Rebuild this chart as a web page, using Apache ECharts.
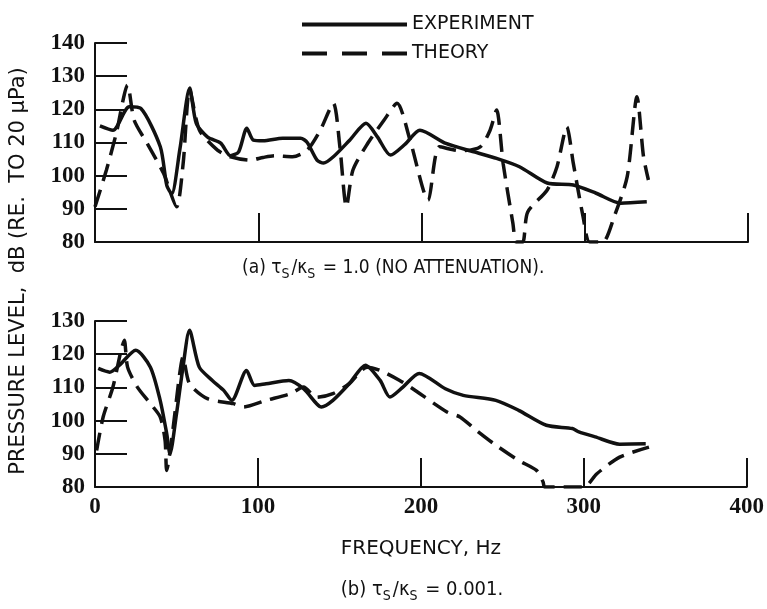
<!DOCTYPE html>
<html lang="en">
<head>
    <meta charset="UTF-8">
    <title>Pressure level vs frequency</title>
    <script type="text/javascript" src="https://cdn.jsdelivr.net/npm/echarts@6/dist/echarts.min.js"></script>
    <style type="text/css">
        html, body { margin: 0; padding: 0; background: #fff; }
        #chart { width: 767px; height: 609px; }
    </style>
</head>
<body>
    <div id="chart"></div>
</body>

<script type="text/javascript">
    // (a) tau/kappa = 1.0
    var expFreqA  = [3, 11, 21, 28, 40, 44, 47, 52, 58, 62, 69, 77, 83, 88, 93, 97, 103, 115, 126, 130, 136, 140, 146, 156, 166, 173, 181, 190, 199, 215, 232, 246, 260, 277, 293, 307, 322, 338];
    var expLevelA = [115, 113.7, 120.8, 120.3, 108.7, 97, 94.5, 108, 126.4, 115.8, 111.6, 109.8, 106, 107.2, 114.3, 110.7, 110.5, 111.3, 111.3, 110, 104.7, 103.8, 105.7, 110.7, 115.8, 111.7, 106.2, 109.5, 113.7, 109.7, 107.2, 105.2, 102.7, 97.8, 97.2, 94.7, 91.7, 92.1];
    var thFreqA   = [0, 7, 13, 20, 24, 32, 42, 50, 54, 58, 64, 75, 83, 95, 103, 110, 121, 130, 138, 146, 150, 154, 158, 167, 177, 185, 193, 204, 211, 224, 236, 242, 246, 250, 256, 258, 262, 265, 277, 283, 289, 293, 299, 303, 311, 318, 326, 332, 336, 339];
    var thLevelA  = [90.6, 101.7, 112.7, 127.3, 116.7, 109.7, 100.7, 90.6, 103.7, 125.8, 113.7, 107.7, 105.7, 104.7, 105.5, 106, 105.7, 107.7, 113.7, 121.8, 108.7, 90.6, 101.7, 109.7, 116.7, 121.8, 110.7, 92.6, 108.7, 107.5, 108.7, 113.7, 119.8, 103.7, 85.6, 80, 80, 89, 95.7, 102.7, 114.7, 103.7, 87.6, 80, 80, 87.6, 99.7, 123.8, 105.7, 98.7];

    // (b) tau/kappa = 0.001
    var expFreqB  = [2, 9, 15, 25, 34, 40, 44, 46, 50, 54, 58, 64, 72, 79, 84, 93, 98, 105, 119, 128, 136, 139, 146, 156, 166, 175, 181, 189, 199, 215, 226, 246, 260, 277, 293, 297, 307, 322, 338];
    var expLevelB = [115.7, 114.6, 116.7, 121.2, 116.1, 106.1, 96.1, 90, 102, 116.1, 127.2, 116.1, 112.1, 109.1, 106.1, 115.1, 110.6, 111.1, 112.1, 109.6, 105.1, 104.1, 106.1, 111.1, 116.7, 112.1, 107.1, 110.1, 114.2, 109.6, 107.6, 106.1, 103.1, 98.6, 97.6, 96.6, 95.1, 92.9, 93];
    var thFreqB   = [1, 5, 11, 16, 18, 20, 26, 34, 40, 43, 44, 47, 52, 54, 58, 69, 85, 91, 105, 120, 128, 136, 146, 156, 167, 175, 187, 195, 216, 224, 234, 246, 260, 271, 275, 276, 300, 308, 322, 340];
    var thLevelB  = [91, 101.1, 110.1, 121.2, 124.2, 116.1, 110.1, 105.1, 101.1, 94.1, 85, 94.1, 114.2, 119.2, 111.1, 106.6, 105.1, 104.1, 106.1, 108.1, 110.1, 107, 108.1, 111.1, 116.1, 115.1, 112.1, 109.6, 102.6, 101.1, 97.1, 92.6, 88, 85, 81.5, 80, 80, 84, 89, 92];

    function pairs(xs, ys) {
        var out = [];
        for (var i = 0; i < xs.length; i++) {
            out.push([xs[i], ys[i]]);
        }
        return out;
    }

    var numFont = {fontFamily: 'Liberation Serif', fontWeight: 'bold', fontSize: 23, color: '#111'};
    var sansFont = 'DejaVu Sans, sans-serif';
    var condFont = 'DejaVu Sans Condensed, DejaVu Sans, sans-serif';
    var solid = {color: '#111', width: 3.5, type: 'solid'};
    var dashed = {color: '#111', width: 3.5, type: [18, 9]};

    function xAxisOpt(idx, showLabels) {
        return {
            type: 'value', gridIndex: idx, min: 0, max: 400, interval: 100,
            axisLine: {lineStyle: {color: '#111', width: 2}},
            axisTick: {inside: true, length: 29, lineStyle: {color: '#111', width: 2}},
            splitLine: {show: false},
            axisLabel: Object.assign({show: showLabels, margin: 9}, numFont),
            name: showLabels ? 'FREQUENCY, Hz' : '',
            nameLocation: 'middle', nameGap: 52,
            nameTextStyle: {fontFamily: sansFont, fontSize: 20, color: '#111'}
        };
    }

    function yAxisOpt(idx, max) {
        return {
            type: 'value', gridIndex: idx, min: 80, max: max, interval: 10,
            axisLine: {show: true, lineStyle: {color: '#111', width: 2}},
            axisTick: {show: true, inside: true, length: 32, lineStyle: {color: '#111', width: 2}},
            splitLine: {show: false},
            axisLabel: Object.assign({margin: 10}, numFont)
        };
    }

    var chart = echarts.init(document.getElementById('chart'));

    var options = {
        backgroundColor: '#fff',
        animation: false,
        legend: {
            orient: 'vertical', left: 297, top: 10,
            itemWidth: 105, itemHeight: 4, itemGap: 10,
            data: [
                {name: 'EXPERIMENT', icon: 'path://M0,0H105V4H0Z'},
                {name: 'THEORY', icon: 'path://M0,0H25V4H0Z M40,0H65V4H40Z M80,0H105V4H80Z'}
            ],
            textStyle: {fontFamily: sansFont, fontSize: 19, color: '#111'}
        },
        grid: [
            {left: 95, top: 43, width: 653, height: 199},
            {left: 95, top: 321, width: 653, height: 166}
        ],
        xAxis: [xAxisOpt(0, false), xAxisOpt(1, true)],
        yAxis: [yAxisOpt(0, 140), yAxisOpt(1, 130)],
        series: [
            {name: 'EXPERIMENT', type: 'line', xAxisIndex: 0, yAxisIndex: 0, symbol: 'none', smooth: 0.25,
                lineStyle: solid, itemStyle: {color: '#111'}, data: pairs(expFreqA, expLevelA)},
            {name: 'THEORY', type: 'line', xAxisIndex: 0, yAxisIndex: 0, symbol: 'none', smooth: 0.25,
                lineStyle: dashed, itemStyle: {color: '#111'}, data: pairs(thFreqA, thLevelA)},
            {name: 'EXPERIMENT', type: 'line', xAxisIndex: 1, yAxisIndex: 1, symbol: 'none', smooth: 0.25,
                lineStyle: solid, itemStyle: {color: '#111'}, data: pairs(expFreqB, expLevelB)},
            {name: 'THEORY', type: 'line', xAxisIndex: 1, yAxisIndex: 1, symbol: 'none', smooth: 0.25,
                lineStyle: dashed, itemStyle: {color: '#111'}, data: pairs(thFreqB, thLevelB)}
        ],
        graphic: [
            {
                type: 'text', x: 19, y: 271, rotation: Math.PI / 2,
                style: {text: 'PRESSURE LEVEL,  dB (RE.  TO 20 μPa)', fontFamily: sansFont, fontSize: 21,
                    fill: '#111', align: 'center', verticalAlign: 'middle'}
            },
            {
                type: 'text', x: 242, y: 268,
                style: {
                    text: '(a) τ{s|S}/κ{s|S} = 1.0 (NO ATTENUATION).',
                    fontFamily: condFont, fontSize: 19, fill: '#111', align: 'left', verticalAlign: 'middle',
                    rich: {s: {fontFamily: condFont, fontSize: 14, fill: '#111', padding: [12, 2, 0, 0]}}
                }
            },
            {
                type: 'text', x: 422, y: 590,
                style: {
                    text: '(b) τ{s|S}/κ{s|S} = 0.001.',
                    fontFamily: condFont, fontSize: 20, fill: '#111', align: 'center', verticalAlign: 'middle',
                    rich: {s: {fontFamily: condFont, fontSize: 14, fill: '#111', padding: [12, 2, 0, 0]}}
                }
            }
        ]
    };
    chart.setOption(options);
</script>
</html>
